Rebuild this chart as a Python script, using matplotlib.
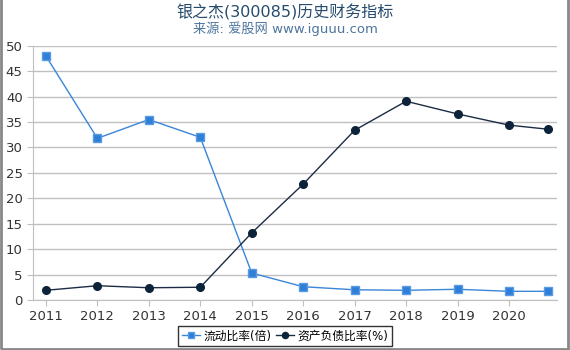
import numpy as np
import matplotlib
matplotlib.use('Agg')
from matplotlib import pyplot as plt
from matplotlib.patches import Rectangle

plt.rcParams['font.family'] = ['DejaVu Sans', 'Noto Sans CJK SC']

years = [2011, 2012, 2013, 2014, 2015, 2016, 2017, 2018, 2019, 2020, 2020.75]
tick_years = [2011, 2012, 2013, 2014, 2015, 2016, 2017, 2018, 2019, 2020]
liudong = [48.0, 31.8, 35.5, 32.0, 5.3, 2.6, 2.0, 1.9, 2.1, 1.7, 1.7]
fuzhai = [1.9, 2.8, 2.4, 2.5, 13.2, 22.8, 33.4, 39.1, 36.6, 34.4, 33.6]

fig = plt.figure(figsize=(5.7, 3.5), dpi=100)
ax = fig.add_axes([0.058, 0.143, 0.919, 0.726])

ax.plot(years, liudong, color='#3a86d8', lw=1, marker='s', ms=5.5,
        mfc='#2f7ed8', mec='#5a9be3', label='流动比率(倍)', zorder=3)
ax.plot(years, fuzhai, color='#1c2c44', lw=1, marker='o', ms=5.5,
        mfc='#0d233a', mec='#0d233a', label='资产负债比率(%)', zorder=3)

ax.set_xlim(2010.75, 2020.93)
ax.set_ylim(0, 50)
ax.set_yticks(range(0, 51, 5))
ax.set_xticks(tick_years)
ax.set_xticklabels([str(y) for y in tick_years])
ax.grid(axis='y', color='#c0c0c0', lw=1)
ax.set_axisbelow(True)
for s in ['top', 'right']:
    ax.spines[s].set_visible(False)
for s in ['left', 'bottom']:
    ax.spines[s].set_color('#c0c0c0')
ax.tick_params(colors='#c0c0c0', labelcolor='#333333', labelsize=9.5, length=4)

fig.text(0.5, 0.965, '银之杰(300085)历史财务指标', ha='center', va='center',
         fontsize=11.5, color='#274b6d')
fig.text(0.5, 0.918, '来源: 爱股网 www.iguuu.com', ha='center', va='center',
         fontsize=9.5, color='#4d759e')

leg = fig.legend(loc='center', bbox_to_anchor=(0.5, 0.04), ncol=2, fontsize=8.5,
                 frameon=True, fancybox=False, handlelength=1.5, handletextpad=0.3,
                 columnspacing=0.4, borderpad=0.3, markerscale=0.8)
leg.get_frame().set_edgecolor('black')
leg.get_frame().set_linewidth(1)

fig.patches.append(Rectangle((0.002, 0.004), 0.994, 1.2, transform=fig.transFigure,
                             fill=False, edgecolor='#888888', lw=2))

fig.savefig('out.png', dpi=100)
